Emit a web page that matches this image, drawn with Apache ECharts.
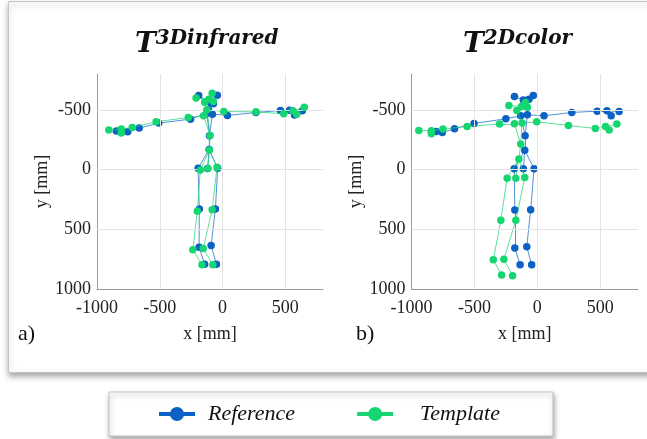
<!DOCTYPE html>
<html>
<head>
<meta charset="utf-8">
<script src="https://cdn.jsdelivr.net/npm/echarts@6/dist/echarts.min.js"></script>
<style>
html,body{margin:0;padding:0;background:#fff;}
#chart{width:647px;height:439px;}
</style>
</head>
<body>
<div id="chart"></div>
<script>
// Joint order: EarL, EyeL, EyeR, EarR, Nose, Neck, SpineShoulder,
// ShoulderR, ElbowR, WristR, HandR, ThumbR, HandTipR,
// ShoulderL, ElbowL, WristL, HandL, ThumbL, HandTipL,
// SpineMid, SpineBase, HipL, HipMid, HipR, KneeL, KneeR, AnkleL, AnkleR, FootL, FootR
const EDGES = [[0,1],[1,4],[4,2],[2,3],[4,5],[5,6],[5,7],[7,8],[8,9],[9,10],[10,12],[10,11],
  [6,13],[13,14],[14,15],[15,16],[16,18],[16,17],[5,19],[6,19],[19,20],[20,21],[20,22],[20,23],
  [21,24],[24,26],[26,28],[23,25],[25,27],[27,29]];

// a) T^3Dinfrared
const refX_a = [-190,-99,-73,-42,-112,-81,-125,39,266,461,534,573,635,-255,-508,-664,-755,-807,-846,-104,-107,-195,-120,-39,-185,-57,-187,-91,-143,-49];
const refY_a = [-619,-561,-550,-622,-500,-464,-472,-453,-478,-494,-497,-456,-492,-422,-389,-347,-317,-317,-322,-283,-167,-11,-8,-11,331,331,650,636,792,792];
const tplX_a = [-211,-109,-83,-73,-143,-125,-151,10,266,487,560,591,651,-273,-529,-719,-807,-807,-906,-99,-104,-177,-117,-44,-201,-83,-237,-154,-164,-78];
const tplY_a = [-600,-589,-639,-569,-564,-500,-450,-486,-483,-467,-492,-464,-522,-436,-400,-353,-339,-306,-331,-286,-164,3,-8,-19,350,336,672,661,797,797];

// b) T^2Dcolor
const refX_b = [-182,-111,-66,-32,-100,-79,-132,53,274,476,553,587,650,-250,-503,-658,-755,-803,-842,-97,-100,-184,-111,-26,-179,-53,-179,-84,-137,-45];
const refY_b = [-611,-583,-589,-619,-540,-458,-450,-450,-478,-489,-492,-450,-486,-425,-386,-342,-311,-319,-317,-283,-161,-6,-6,-6,339,336,656,647,797,797];
const tplX_b = [-226,-126,-95,-79,-163,-121,-182,-5,247,461,542,571,632,-300,-558,-750,-842,-842,-942,-132,-147,-240,-171,-100,-290,-171,-350,-266,-284,-197];
const tplY_b = [-536,-528,-561,-522,-494,-389,-383,-400,-369,-344,-361,-331,-381,-381,-361,-339,-325,-300,-328,-214,-89,72,72,67,425,425,756,750,883,889];

const X_TICKS = [-1000,-500,0,500];
const Y_TICKS = [-500,0,500,1000];
const GRID_X = [-500,0,500];
const GRID_Y = [-500,0,500];
const TITLES = ['3Dinfrared','2Dcolor'];
const PANEL_LABELS = ['a)','b)'];
const SERIES_NAMES = ['Reference','Template'];

const BLUE = '#0c61c4';
const GREEN = '#15d670';
const SERIF = '"Liberation Serif", "Times New Roman", serif';

const grids = [
  {left:97, top:74, width:226, height:215},
  {left:411.5, top:74, width:226.5, height:215}
];

function xAxis(i){
  return {type:'value', gridIndex:i, min:-1000, max:800, interval:100,
    axisLine:{show:true, onZero:false, lineStyle:{color:'#9a9a9a', width:1}},
    axisTick:{show:false}, splitLine:{show:false},
    axisLabel:{margin:10, fontFamily:SERIF, fontSize:18, color:'#222',
      formatter:v => X_TICKS.indexOf(v) >= 0 ? String(v) : ''},
    name:'x [mm]', nameLocation:'middle', nameGap:36,
    nameTextStyle:{fontFamily:SERIF, fontSize:18, color:'#222'}};
}
function yAxis(i){
  return {type:'value', gridIndex:i, inverse:true, min:-800, max:1000, interval:100,
    axisLine:{show:true, onZero:false, lineStyle:{color:'#9a9a9a', width:1}},
    axisTick:{show:false}, splitLine:{show:false},
    axisLabel:{margin:6, fontFamily:SERIF, fontSize:18, color:'#222',
      formatter:v => Y_TICKS.indexOf(v) >= 0 ? String(v) : ''},
    name:'y [mm]', nameLocation:'middle', nameGap:44,
    nameTextStyle:{fontFamily:SERIF, fontSize:18, color:'#222'}};
}
function edgesData(X, Y){
  return EDGES.map(([a,b]) => ({coords:[[X[a],Y[a]],[X[b],Y[b]]]}));
}
function pts(X, Y){ return X.map((x,k) => [x, Y[k]]); }

const sets = [
  [[refX_a, refY_a],[tplX_a, tplY_a]],
  [[refX_b, refY_b],[tplX_b, tplY_b]]
];
const colors = [BLUE, GREEN];
const series = [];
sets.forEach((pair, gi) => {
  series.push({type:'scatter', xAxisIndex:gi, yAxisIndex:gi, data:[], silent:true, z:1,
    markLine:{silent:true, symbol:'none', label:{show:false}, animation:false,
      lineStyle:{color:'#e4e4e4', width:1, type:'solid'},
      data: GRID_X.map(v => ({xAxis:v})).concat(GRID_Y.map(v => ({yAxis:v})))}});
  pair.forEach(([X, Y], si) => {
    series.push({type:'lines', name:SERIES_NAMES[si], coordinateSystem:'cartesian2d',
      xAxisIndex:gi, yAxisIndex:gi, silent:true, z:2 + si*2,
      lineStyle:{color:colors[si], width:1, opacity:0.7, curveness:0},
      data: edgesData(X, Y)});
    series.push({type:'scatter', name:SERIES_NAMES[si], xAxisIndex:gi, yAxisIndex:gi,
      symbol:'circle', symbolSize:7.5, z:3 + si*2, silent:true,
      itemStyle:{color:colors[si], opacity:1},
      data: pts(X, Y)});
  });
});

const ICON = 'path://M0,6H34V8H0Z M11,7A6,6 0 1,1 23,7A6,6 0 1,1 11,7Z';
const titleRich = {
  t:{fontFamily:'"DejaVu Serif", serif', fontWeight:'bold', fontStyle:'italic', fontSize:28, lineHeight:32, color:'#111'},
  s:{fontFamily:'"DejaVu Serif", serif', fontWeight:'bold', fontStyle:'italic', fontSize:20, lineHeight:20, verticalAlign:'top', color:'#111'}
};

const option = {
  animation:false,
  backgroundColor:'#fff',
  title:[
    {left:135, top:29, padding:0, text:'{t|T}{s|' + TITLES[0] + '}', textStyle:{rich:titleRich}},
    {left:463, top:29, padding:0, text:'{t|T}{s|' + TITLES[1] + '}', textStyle:{rich:titleRich}}
  ],
  grid: grids,
  xAxis:[xAxis(0), xAxis(1)],
  yAxis:[yAxis(0), yAxis(1)],
  legend:{left:109, top:392, orient:'horizontal', padding:[11,53,11,50], itemGap:62,
    itemWidth:34, itemHeight:14, selectedMode:false,
    backgroundColor:'#fff', borderColor:'#c4c4c4', borderWidth:1,
    shadowBlur:5, shadowColor:'rgba(0,0,0,0.35)', shadowOffsetX:1, shadowOffsetY:3,
    textStyle:{fontFamily:SERIF, fontStyle:'italic', fontSize:22, color:'#111'},
    data:[
      {name:SERIES_NAMES[0], icon:ICON, itemStyle:{color:BLUE}, textStyle:{padding:[0,0,0,9]}},
      {name:SERIES_NAMES[1], icon:ICON, itemStyle:{color:GREEN}, textStyle:{padding:[0,0,0,23]}}
    ]},
  graphic:[
    {type:'rect', left:8, top:1, z:-10, shape:{width:700, height:371},
      style:{fill:'#fff', stroke:'#c4c4c4', lineWidth:1, shadowBlur:6, shadowOffsetY:3,
        shadowColor:'rgba(0,0,0,0.35)'}},
    {type:'text', left:18, top:323, z:10, style:{text:PANEL_LABELS[0], font:'22px "Liberation Serif"', fill:'#111'}},
    {type:'text', left:356, top:323, z:10, style:{text:PANEL_LABELS[1], font:'22px "Liberation Serif"', fill:'#111'}}
  ],
  series: series
};
const chart = echarts.init(document.getElementById('chart'), null, {renderer:'canvas'});
chart.setOption(option);
</script>
</body>
</html>
